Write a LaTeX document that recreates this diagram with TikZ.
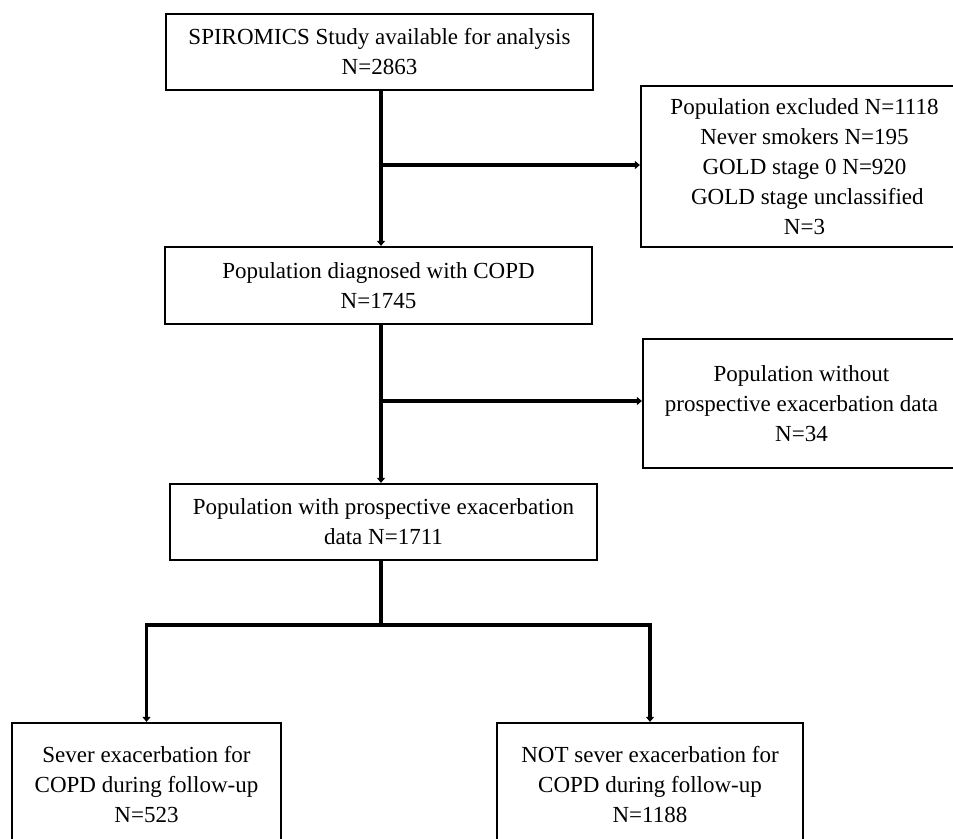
\documentclass[tikz,border=0pt]{standalone}
\usepackage{fontspec}
\setmainfont{Liberation Serif}
\usepackage{tikz}
\usetikzlibrary{arrows.meta,positioning,calc}
\tikzset{
  box/.style={draw=black,line width=2.2pt,rectangle,align=center,inner sep=0pt,
    font=\fontsize{23}{30}\selectfont},
  flow/.style={-{Triangle[length=5pt,width=8pt]},line width=3.6pt,draw=black},
  link/.style={line width=3.6pt,draw=black}
}
\begin{document}
\begin{tikzpicture}[x=1pt,y=-1pt]
  \useasboundingbox (0,0) rectangle (953,838);
  \clip (0,0) rectangle (953,838);
  \node[box,minimum width=427pt,minimum height=76pt] (study) at (379.5,52)
    {SPIROMICS Study available for analysis\\N=2863};
  \node[box,minimum width=327pt,minimum height=161pt] (excl) at (804.5,166.5)
    {Population excluded N=1118\\Never smokers N=195\\GOLD stage 0 N=920\\
     \ GOLD stage unclassified\\N=3};
  \node[box,minimum width=427pt,minimum height=77pt] (diag) at (378.5,285.5)
    {Population diagnosed with COPD\\N=1745};
  \node[box,minimum width=317pt,minimum height=129pt] (without) at (801.5,403.5)
    {Population without\\prospective exacerbation data\\N=34};
  \node[box,minimum width=427pt,minimum height=76pt] (prosp) at (383.5,522)
    {Population with prospective exacerbation\\data N=1711};
  \node[box,minimum width=269pt,minimum height=124pt] (sev) at (146.5,785)
    {Sever exacerbation for\\COPD during follow-up\\N=523};
  \node[box,minimum width=306pt,minimum height=124pt] (notsev) at (650,785)
    {NOT sever exacerbation for\\COPD during follow-up\\N=1188};
  % branch points on the main line
  \coordinate (b1) at (381,165);
  \coordinate (b2) at (381,401);
  \coordinate (j) at (381,625);
  \draw[flow] (study.south -| j) -- (diag.north -| j);
  \draw[flow] (b1) -- (b1 -| excl.west);
  \draw[flow] (diag.south -| j) -- (prosp.north -| j);
  \draw[flow] (b2) -- (b2 -| without.west);
  \draw[link] (prosp.south -| j) -- (j);
  \draw[link,line cap=rect] (sev.north |- j) -- (notsev.north |- j);
  \draw[flow] (sev.north |- j) -- (sev.north);
  \draw[flow] (notsev.north |- j) -- (notsev.north);
\end{tikzpicture}
\end{document}
